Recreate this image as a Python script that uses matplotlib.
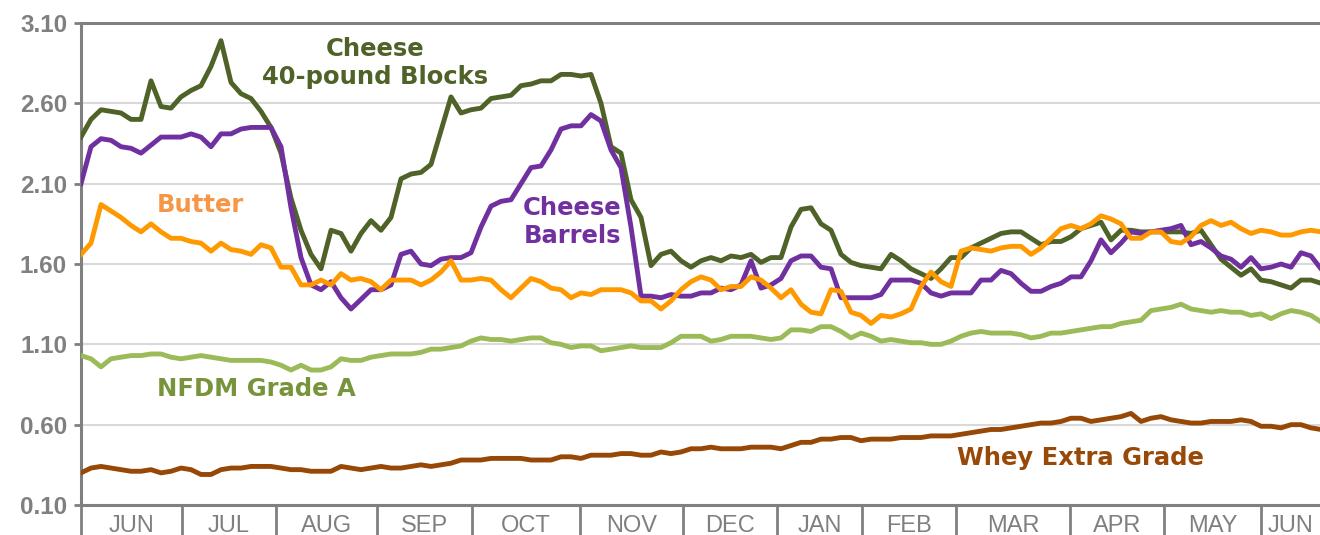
import numpy as np
import matplotlib.pyplot as plt

# month labels and where each month starts (in sample index units, one sample ~ 2 trading days)
months = ["JUN", "JUL", "AUG", "SEP", "OCT", "NOV", "DEC", "JAN", "FEB", "MAR", "APR", "MAY", "JUN"]
month_starts = [0, 10.1, 19.5, 29.6, 39.1, 49.9, 60.2, 69.6, 78.1, 87.5, 98.9, 108.3, 118.0]
x_end = 123.9

# prices, $/lb
blocks = [2.39, 2.50, 2.56, 2.55, 2.54, 2.50, 2.50, 2.74, 2.58, 2.57,
          2.64, 2.68, 2.71, 2.83, 2.99, 2.73, 2.66, 2.63, 2.55, 2.45,
          2.29, 2.01, 1.81, 1.66, 1.57, 1.81, 1.79, 1.68, 1.79, 1.87,
          1.81, 1.89, 2.13, 2.16, 2.17, 2.22, 2.43, 2.64, 2.54, 2.56,
          2.57, 2.63, 2.64, 2.65, 2.71, 2.72, 2.74, 2.74, 2.78, 2.78,
          2.77, 2.78, 2.60, 2.33, 2.29, 2.00, 1.89, 1.59, 1.66, 1.68,
          1.62, 1.58, 1.62, 1.64, 1.62, 1.65, 1.64, 1.66, 1.61, 1.64,
          1.64, 1.83, 1.94, 1.95, 1.85, 1.81, 1.66, 1.61, 1.59, 1.58,
          1.57, 1.66, 1.62, 1.57, 1.54, 1.51, 1.57, 1.64, 1.64, 1.70,
          1.73, 1.76, 1.79, 1.80, 1.80, 1.76, 1.72, 1.74, 1.74, 1.77,
          1.82, 1.84, 1.86, 1.75, 1.81, 1.81, 1.80, 1.80, 1.80, 1.80,
          1.80, 1.79, 1.81, 1.72, 1.63, 1.58, 1.53, 1.57, 1.50, 1.49,
          1.47, 1.45, 1.50, 1.50, 1.48]

barrels = [2.10, 2.33, 2.38, 2.37, 2.33, 2.32, 2.29, 2.34, 2.39, 2.39,
           2.39, 2.41, 2.39, 2.33, 2.41, 2.41, 2.44, 2.45, 2.45, 2.45,
           2.33, 1.95, 1.64, 1.47, 1.44, 1.49, 1.39, 1.32, 1.38, 1.44,
           1.44, 1.47, 1.66, 1.68, 1.60, 1.59, 1.63, 1.64, 1.64, 1.67,
           1.83, 1.96, 1.99, 2.00, 2.10, 2.20, 2.21, 2.31, 2.44, 2.46,
           2.46, 2.53, 2.49, 2.31, 2.20, 1.83, 1.40, 1.40, 1.39, 1.41,
           1.40, 1.40, 1.42, 1.42, 1.45, 1.44, 1.47, 1.62, 1.45, 1.47,
           1.51, 1.62, 1.65, 1.65, 1.58, 1.57, 1.39, 1.39, 1.39, 1.39,
           1.41, 1.50, 1.50, 1.50, 1.48, 1.42, 1.40, 1.42, 1.42, 1.42,
           1.50, 1.50, 1.56, 1.54, 1.48, 1.43, 1.43, 1.46, 1.48, 1.52,
           1.52, 1.62, 1.75, 1.67, 1.73, 1.80, 1.79, 1.80, 1.81, 1.82,
           1.84, 1.72, 1.74, 1.70, 1.65, 1.63, 1.58, 1.64, 1.57, 1.58,
           1.60, 1.58, 1.67, 1.65, 1.57]

butter = [1.66, 1.73, 1.97, 1.93, 1.89, 1.84, 1.80, 1.85, 1.80, 1.76,
          1.76, 1.74, 1.73, 1.68, 1.73, 1.69, 1.68, 1.66, 1.72, 1.70,
          1.58, 1.58, 1.47, 1.47, 1.50, 1.47, 1.54, 1.50, 1.51, 1.49,
          1.44, 1.50, 1.50, 1.50, 1.47, 1.50, 1.55, 1.62, 1.50, 1.50,
          1.51, 1.50, 1.44, 1.39, 1.45, 1.51, 1.49, 1.45, 1.44, 1.39,
          1.42, 1.41, 1.44, 1.44, 1.44, 1.42, 1.37, 1.37, 1.32, 1.37,
          1.44, 1.49, 1.52, 1.50, 1.44, 1.46, 1.46, 1.52, 1.50, 1.45,
          1.39, 1.44, 1.35, 1.30, 1.29, 1.44, 1.43, 1.30, 1.28, 1.23,
          1.28, 1.27, 1.29, 1.32, 1.46, 1.55, 1.49, 1.46, 1.68, 1.70,
          1.69, 1.68, 1.70, 1.71, 1.71, 1.66, 1.70, 1.76, 1.82, 1.84,
          1.82, 1.85, 1.90, 1.88, 1.85, 1.76, 1.76, 1.80, 1.80, 1.74,
          1.73, 1.77, 1.84, 1.87, 1.84, 1.86, 1.82, 1.79, 1.81, 1.80,
          1.78, 1.78, 1.80, 1.81, 1.80]

nfdm = [1.03, 1.01, 0.96, 1.01, 1.02, 1.03, 1.03, 1.04, 1.04, 1.02,
        1.01, 1.02, 1.03, 1.02, 1.01, 1.00, 1.00, 1.00, 1.00, 0.99,
        0.97, 0.94, 0.97, 0.94, 0.94, 0.96, 1.01, 1.00, 1.00, 1.02,
        1.03, 1.04, 1.04, 1.04, 1.05, 1.07, 1.07, 1.08, 1.09, 1.12,
        1.14, 1.13, 1.13, 1.12, 1.13, 1.14, 1.14, 1.11, 1.10, 1.08,
        1.09, 1.09, 1.06, 1.07, 1.08, 1.09, 1.08, 1.08, 1.08, 1.11,
        1.15, 1.15, 1.15, 1.12, 1.13, 1.15, 1.15, 1.15, 1.14, 1.13,
        1.14, 1.19, 1.19, 1.18, 1.21, 1.21, 1.18, 1.14, 1.17, 1.15,
        1.12, 1.13, 1.12, 1.11, 1.11, 1.10, 1.10, 1.12, 1.15, 1.17,
        1.18, 1.17, 1.17, 1.17, 1.16, 1.14, 1.15, 1.17, 1.17, 1.18,
        1.19, 1.20, 1.21, 1.21, 1.23, 1.24, 1.25, 1.31, 1.32, 1.33,
        1.35, 1.32, 1.31, 1.30, 1.31, 1.30, 1.30, 1.28, 1.29, 1.26,
        1.29, 1.31, 1.30, 1.28, 1.24]

whey = [0.30, 0.33, 0.34, 0.33, 0.32, 0.31, 0.31, 0.32, 0.30, 0.31,
        0.33, 0.32, 0.29, 0.29, 0.32, 0.33, 0.33, 0.34, 0.34, 0.34,
        0.33, 0.32, 0.32, 0.31, 0.31, 0.31, 0.34, 0.33, 0.32, 0.33,
        0.34, 0.33, 0.33, 0.34, 0.35, 0.34, 0.35, 0.36, 0.38, 0.38,
        0.38, 0.39, 0.39, 0.39, 0.39, 0.38, 0.38, 0.38, 0.40, 0.40,
        0.39, 0.41, 0.41, 0.41, 0.42, 0.42, 0.41, 0.41, 0.43, 0.42,
        0.43, 0.45, 0.45, 0.46, 0.45, 0.45, 0.45, 0.46, 0.46, 0.46,
        0.45, 0.47, 0.49, 0.49, 0.51, 0.51, 0.52, 0.52, 0.50, 0.51,
        0.51, 0.51, 0.52, 0.52, 0.52, 0.53, 0.53, 0.53, 0.54, 0.55,
        0.56, 0.57, 0.57, 0.58, 0.59, 0.60, 0.61, 0.61, 0.62, 0.64,
        0.64, 0.62, 0.63, 0.64, 0.65, 0.67, 0.62, 0.64, 0.65, 0.63,
        0.62, 0.61, 0.61, 0.62, 0.62, 0.62, 0.63, 0.62, 0.59, 0.59,
        0.58, 0.60, 0.60, 0.58, 0.57]

gray = "#808080"

fig = plt.figure(figsize=(13.2, 5.35), dpi=100)
ax = fig.add_axes([81 / 1320, 30 / 535, 1239 / 1320, 482 / 535])

x = np.arange(len(blocks))
lw = 3.5
ax.plot(x, whey, color="#974706", lw=lw, solid_joinstyle="round", zorder=3)
ax.plot(x, nfdm, color="#9BBB59", lw=lw, solid_joinstyle="round", zorder=3)
ax.plot(x, blocks, color="#4F6228", lw=lw, solid_joinstyle="round", zorder=4)
ax.plot(x, barrels, color="#7030A0", lw=lw, solid_joinstyle="round", zorder=5)
ax.plot(x, butter, color="#FF9900", lw=lw, solid_joinstyle="round", zorder=6)

ax.set_xlim(0, x_end)
ax.set_ylim(0.10, 3.10)
yt = np.arange(0.10, 3.11, 0.5)
ax.set_yticks(yt)
ax.set_yticklabels(["%.2f" % v for v in yt], fontsize=17.5, fontweight="bold",
                   color=gray, family="Liberation Sans")
ax.yaxis.grid(True, color="#D9D9D9", lw=1.5, zorder=0)
ax.set_axisbelow(True)
ax.tick_params(axis="y", length=5, width=2, color=gray, pad=5)

# month separators as long major ticks, names on minor ticks in between
edges = month_starts + [x_end]
mids = [(edges[i] + edges[i + 1]) / 2 for i in range(len(months))]
ax.set_xticks(month_starts)
ax.set_xticklabels([])
ax.set_xticks(mids, minor=True)
ax.set_xticklabels(months, minor=True, fontsize=17, color="#7F7F7F",
                   family="Liberation Sans")
ax.tick_params(axis="x", which="major", length=23, width=2, color=gray)
ax.tick_params(axis="x", which="minor", length=0, pad=7.5)

for side in ["left", "bottom", "top"]:
    ax.spines[side].set_color(gray)
    ax.spines[side].set_linewidth(2.2)
ax.spines["right"].set_visible(False)

lab = dict(fontsize=17.5, fontweight="bold", family="DejaVu Sans", ha="center",
           va="center", linespacing=1.2, zorder=7)
ax.text(29.4, 2.85, "Cheese\n40-pound Blocks", color="#4F6228", **lab)
ax.text(11.9, 1.97, "Butter", color="#F79646", **lab)
ax.text(49.1, 1.86, "Cheese\nBarrels", color="#7030A0", **lab)
ax.text(17.5, 0.82, "NFDM Grade A", color="#77933C", **lab)
ax.text(99.9, 0.39, "Whey Extra Grade", color="#984807", **lab)

fig.savefig("out.png", dpi=100)
